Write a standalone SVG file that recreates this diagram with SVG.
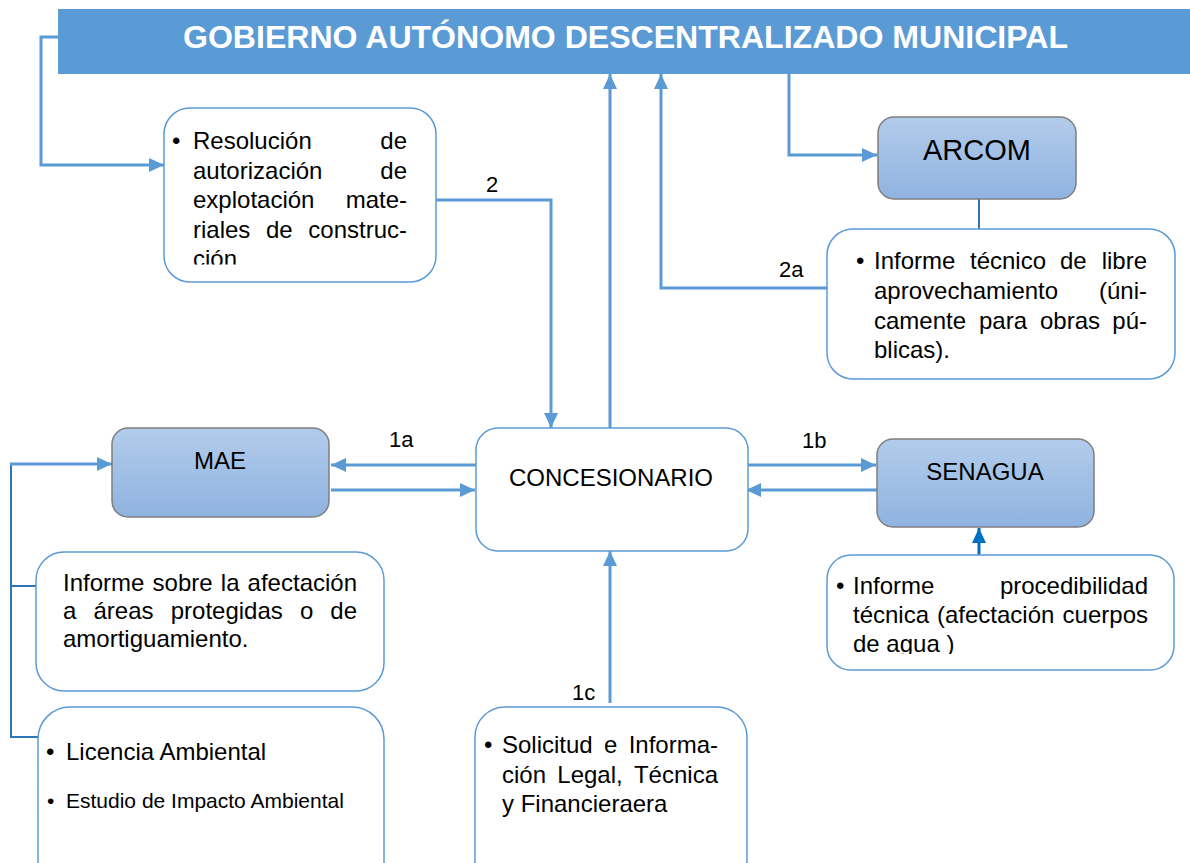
<svg xmlns="http://www.w3.org/2000/svg" width="1190" height="863" viewBox="0 0 1190 863">
<style>
text{font-family:"Liberation Sans",Arial,sans-serif;fill:#000;}
.t{font-size:24px;}
.title{font-size:32px;font-weight:bold;fill:#fff;}
.wbox{fill:#fff;stroke:#5B9BD5;stroke-width:1.5;}
.gbox{fill:url(#g);stroke:#7F7F7F;stroke-width:1.5;}
.c{fill:none;stroke:#5B9BD5;stroke-width:3;}
.cd{fill:none;stroke:#2E75B6;stroke-width:2;}
.cdk{fill:none;stroke:#0070C0;stroke-width:3;}
.lbl{font-size:22px;}
</style>
<defs>
<linearGradient id="g" x1="0" y1="0" x2="0" y2="1">
<stop offset="0" stop-color="#B2CCEB"/>
<stop offset="1" stop-color="#8FB3E0"/>
</linearGradient>
<marker id="ah" viewBox="0 0 15 14" refX="15" refY="7" markerWidth="15" markerHeight="14" orient="auto" markerUnits="userSpaceOnUse">
<path d="M0,0 L15,7 L0,14 z" fill="#5B9BD5"/>
</marker>
<marker id="ahd" viewBox="0 0 15 14" refX="15" refY="7" markerWidth="15" markerHeight="14" orient="auto" markerUnits="userSpaceOnUse">
<path d="M0,0 L15,7 L0,14 z" fill="#0070C0"/>
</marker>
<clipPath id="clipRes"><rect x="160" y="100" width="280" height="164.5"/></clipPath>
<clipPath id="clipProc"><rect x="820" y="550" width="360" height="104"/></clipPath>
</defs>

<g id="connectors">
<path class="c" d="M58,37 H41 V165 H164" marker-end="url(#ah)"/>
<path class="c" d="M436,200 H551 V428" marker-end="url(#ah)"/>
<path class="c" d="M610,428 V74" marker-end="url(#ah)"/>
<path class="c" d="M827,288 H661 V74" marker-end="url(#ah)"/>
<path class="c" d="M789,74 V155 H877" marker-end="url(#ah)"/>
<path class="cd" d="M979,199 V229"/>
<path class="c" d="M476,465 H331" marker-end="url(#ah)"/>
<path class="c" d="M331,490 H475" marker-end="url(#ah)"/>
<path class="c" d="M748,465 H876" marker-end="url(#ah)"/>
<path class="c" d="M877,490 H746" marker-end="url(#ah)"/>
<path class="cdk" d="M979,555 V528" marker-end="url(#ahd)"/>
<path class="c" d="M610,703 V551" marker-end="url(#ah)"/>
<path class="cd" d="M11,464 V737 H38 M11,586 H36"/>
<path class="c" d="M10,464 H112" marker-end="url(#ah)"/>
<text class="lbl" x="486" y="192">2</text>
<text class="lbl" x="779" y="277">2a</text>
<text class="lbl" x="389" y="447">1a</text>
<text class="lbl" x="802" y="448">1b</text>
<text class="lbl" x="572" y="700">1c</text>
</g>

<g id="gad">
<rect x="58" y="9" width="1132" height="65" fill="#5B9BD5"/>
<text class="title" x="183" y="48" textLength="885" lengthAdjust="spacingAndGlyphs">GOBIERNO AUTÓNOMO DESCENTRALIZADO MUNICIPAL</text>
</g>

<g id="resolucion">
<rect class="wbox" x="164" y="108" width="272" height="174" rx="26"/>
<g clip-path="url(#clipRes)" class="t">
<text x="172" y="149">•</text>
<text x="193" y="149">Resolución</text>
<text x="407" y="149" text-anchor="end">de</text>
<text x="193" y="178.5">autorización</text>
<text x="407" y="178.5" text-anchor="end">de</text>
<text x="193" y="208">explotación</text>
<text x="407" y="208" text-anchor="end">mate-</text>
<text x="193" y="237.5">riales</text>
<text x="266" y="237.5">de</text>
<text x="407" y="237.5" text-anchor="end">construc-</text>
<text x="193" y="266.5">ción</text>
</g>
</g>

<g id="arcom">
<rect class="gbox" x="878" y="117" width="198" height="82" rx="16"/>
<text x="977" y="160" text-anchor="middle" style="font-size:29px">ARCOM</text>
</g>

<g id="informe-tecnico" class="t">
<rect class="wbox" x="827" y="229" width="348" height="150" rx="26"/>
<text x="856" y="269">•</text>
<text x="874" y="269">Informe</text>
<text x="970" y="269">técnico</text>
<text x="1060" y="269">de</text>
<text x="1147" y="269" text-anchor="end">libre</text>
<text x="874" y="299">aprovechamiento</text>
<text x="1147" y="299" text-anchor="end">(úni-</text>
<text x="874" y="328.5">camente</text>
<text x="979" y="328.5">para</text>
<text x="1040" y="328.5">obras</text>
<text x="1147" y="328.5" text-anchor="end">pú-</text>
<text x="874" y="358">blicas).</text>
</g>

<g id="mae">
<rect class="gbox" x="112" y="428" width="217" height="89" rx="16"/>
<text class="t" x="220" y="469" text-anchor="middle">MAE</text>
</g>

<g id="concesionario">
<rect class="wbox" x="476" y="428" width="272" height="123" rx="22"/>
<text class="t" x="611" y="486" text-anchor="middle">CONCESIONARIO</text>
</g>

<g id="senagua">
<rect class="gbox" x="877" y="439" width="217" height="88" rx="16"/>
<text class="t" x="985" y="480" text-anchor="middle">SENAGUA</text>
</g>

<g id="procedibilidad">
<rect class="wbox" x="827" y="555" width="347" height="115" rx="24"/>
<g clip-path="url(#clipProc)" class="t">
<text x="836" y="594">•</text>
<text x="853" y="594">Informe</text>
<text x="1148" y="594" text-anchor="end">procedibilidad</text>
<text x="853" y="623">técnica</text>
<text x="937" y="623">(afectación</text>
<text x="1148" y="623" text-anchor="end">cuerpos</text>
<text x="853" y="652">de agua )</text>
</g>
</g>

<g id="informe-afectacion" class="t">
<rect class="wbox" x="36" y="552" width="348" height="139" rx="28"/>
<text x="63" y="590.5">Informe</text>
<text x="152.6" y="590.5">sobre</text>
<text x="220.8" y="590.5">la</text>
<text x="357" y="590.5" text-anchor="end">afectación</text>
<text x="63" y="618.5">a</text>
<text x="93.5" y="618.5">áreas</text>
<text x="170.7" y="618.5">protegidas</text>
<text x="299.9" y="618.5">o</text>
<text x="357" y="618.5" text-anchor="end">de</text>
<text x="63" y="647">amortiguamiento.</text>
</g>

<g id="licencia">
<rect class="wbox" x="38" y="707" width="346" height="190" rx="32"/>
<text class="t" x="46" y="760">•</text>
<text class="t" x="66" y="760">Licencia Ambiental</text>
<text x="47" y="808" style="font-size:21px">•</text>
<text x="66" y="808" style="font-size:21px">Estudio de Impacto Ambiental</text>
</g>

<g id="solicitud" class="t">
<rect class="wbox" x="475" y="707" width="272" height="190" rx="30"/>
<text x="484" y="753">•</text>
<text x="502" y="753">Solicitud</text>
<text x="604" y="753">e</text>
<text x="718" y="753" text-anchor="end">Informa-</text>
<text x="502" y="783">ción</text>
<text x="557.3" y="783">Legal,</text>
<text x="718" y="783" text-anchor="end">Técnica</text>
<text x="502" y="812">y Financieraera</text>
</g>
</svg>
